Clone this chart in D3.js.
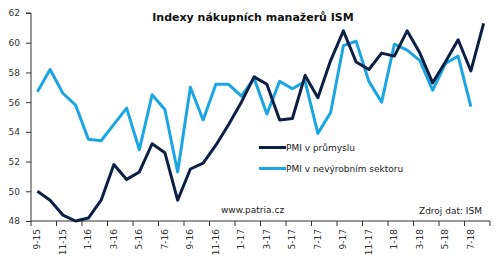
<!DOCTYPE html>
<html lang="cs">
<head>
    <meta charset="UTF-8">
    <title>Indexy nákupních manažerů ISM</title>
    <script src="https://d3js.org/d3.v7.min.js"></script>
    <style>
        body {
            margin: 0;
            background: #fff;
        }
        svg text {
            font-family: "DejaVu Sans", Verdana, sans-serif;
            fill: #222;
        }
        .axis path, .axis line {
            stroke: #333;
        }
        .axis text {
            font-size: 9px;
            fill: #333;
        }
    </style>
</head>
<body>
    <svg width="500" height="260"></svg>
    <script>
        // Months 9-15 .. 8-18
        const months = [
            "9-15", "10-15", "11-15", "12-15",
            "1-16", "2-16", "3-16", "4-16", "5-16", "6-16", "7-16", "8-16", "9-16", "10-16", "11-16", "12-16",
            "1-17", "2-17", "3-17", "4-17", "5-17", "6-17", "7-17", "8-17", "9-17", "10-17", "11-17", "12-17",
            "1-18", "2-18", "3-18", "4-18", "5-18", "6-18", "7-18", "8-18"
        ];

        const pmiIndustry = [
            50.0, 49.4, 48.4, 48.0, 48.2, 49.4, 51.8, 50.8, 51.3, 53.2, 52.6, 49.4,
            51.5, 51.9, 53.1, 54.5, 56.0, 57.7, 57.2, 54.8, 54.9, 57.8, 56.3, 58.8,
            60.8, 58.7, 58.2, 59.3, 59.1, 60.8, 59.3, 57.3, 58.7, 60.2, 58.1, 61.3
        ];

        const pmiServices = [
            56.7, 58.2, 56.6, 55.8, 53.5, 53.4, 54.5, 55.6, 52.8, 56.5, 55.5, 51.3,
            57.0, 54.8, 57.2, 57.2, 56.4, 57.6, 55.2, 57.4, 56.9, 57.4, 53.9, 55.3,
            59.8, 60.1, 57.4, 56.0, 59.9, 59.5, 58.8, 56.8, 58.6, 59.1, 55.7
        ];

        const yTicks = [48, 50, 52, 54, 56, 58, 60, 62];

        const seriesNames = ["PMI v průmyslu", "PMI v nevýrobním sektoru"];
        const colors = ["#0c1f45", "#1ba6e2"];

        const svg = d3.select("svg");

        const x = d3.scaleBand()
                    .domain(months)
                    .range([31, 490])
                    .padding(0);

        const y = d3.scaleLinear()
                    .domain([48, 62])
                    .range([221, 13]);

        // Y axis
        svg.append("g")
           .attr("class", "axis")
           .attr("transform", "translate(31,0)")
           .call(d3.axisLeft(y).tickValues(yTicks).tickSize(5).tickPadding(6))
           .call(g => g.select(".domain").attr("d", `M-5,${y(62)}H0V${y(48)}`));

        // X axis: ticks on band edges every 2 months, labels on every other month
        const xAxis = svg.append("g")
           .attr("class", "axis")
           .attr("transform", `translate(0,${y(48)})`);

        xAxis.append("line")
             .attr("x1", x.range()[0]).attr("x2", x.range()[1])
             .attr("y1", 0).attr("y2", 0)
             .attr("stroke", "#333");

        const edgeIdx = d3.range(0, months.length + 1, 2);
        xAxis.selectAll(".edge")
             .data(edgeIdx)
             .enter().append("line")
             .attr("class", "edge")
             .attr("x1", i => x.range()[0] + i * x.step())
             .attr("x2", i => x.range()[0] + i * x.step())
             .attr("y1", 0).attr("y2", 5)
             .attr("stroke", "#333");

        xAxis.selectAll(".mlabel")
             .data(months.filter((d, i) => i % 2 === 0))
             .enter().append("text")
             .attr("class", "mlabel")
             .attr("transform", d => `translate(${x(d) + x.bandwidth() / 2 + 3},8) rotate(-90)`)
             .style("text-anchor", "end")
             .text(d => d);

        // Lines
        const line = d3.line()
                       .x((d, i) => x(months[i]) + x.bandwidth() / 2)
                       .y(d => y(d));

        [pmiServices, pmiIndustry].forEach((s, k) => {
            svg.append("path")
               .datum(s)
               .attr("fill", "none")
               .attr("stroke", colors[1 - k])
               .attr("stroke-width", 3)
               .attr("stroke-linejoin", "round")
               .attr("d", line);
        });

        // Title
        svg.append("text")
           .attr("x", 253)
           .attr("y", 21)
           .style("text-anchor", "middle")
           .style("font-size", "11px")
           .style("font-weight", "bold")
           .style("fill", "#111")
           .text("Indexy nákupních manažerů ISM");

        // Legend
        const legend = svg.append("g");
        seriesNames.forEach((name, i) => {
            const ly = 147.5 + i * 21;
            legend.append("line")
                  .attr("x1", 259).attr("x2", 286)
                  .attr("y1", ly).attr("y2", ly)
                  .attr("stroke", colors[i])
                  .attr("stroke-width", 3);
            legend.append("text")
                  .attr("x", 286)
                  .attr("y", ly + 3.5)
                  .style("font-size", "9px")
                  .text(name);
        });

        // Footer notes
        svg.append("text")
           .attr("x", 221)
           .attr("y", 213)
           .style("font-size", "9px")
           .text("www.patria.cz");

        svg.append("text")
           .attr("x", 482)
           .attr("y", 214)
           .style("text-anchor", "end")
           .style("font-size", "9px")
           .text("Zdroj dat: ISM");
    </script>
</body>
</html>
